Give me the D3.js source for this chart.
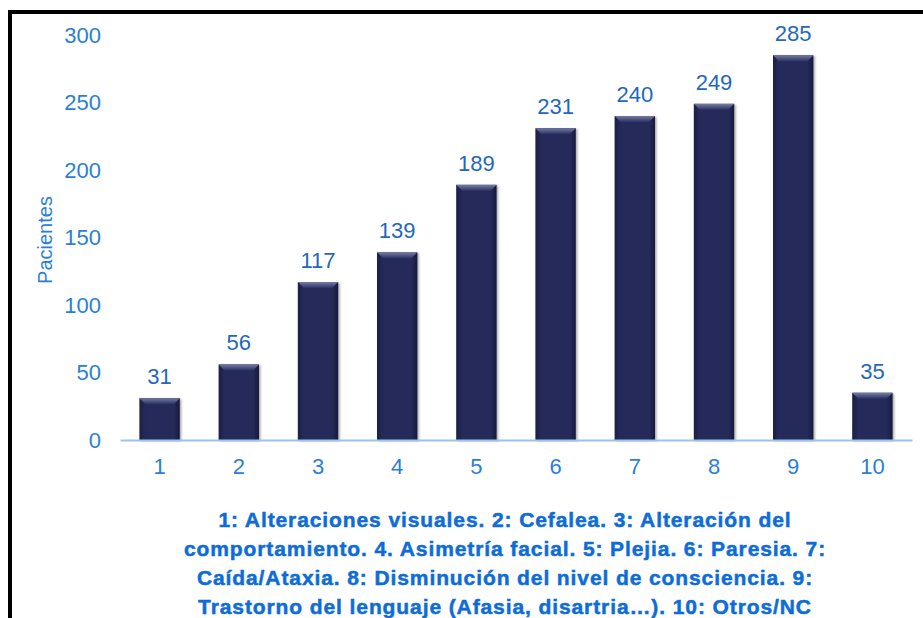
<!DOCTYPE html>
<html><head><meta charset="utf-8">
<script src="https://cdn.jsdelivr.net/npm/d3@7"></script>
<style>body{margin:0;background:#fff;}svg{display:block;font-family:Arial,"Liberation Sans",sans-serif;}</style>
</head><body>
<svg id="c" width="923" height="618"></svg>
<script>
const categories = ["1","2","3","4","5","6","7","8","9","10"];
const values = [31,56,117,139,189,231,240,249,285,35];
const yTicks = [0,50,100,150,200,250,300];
const yTitle = "Pacientes";
const captionLines = [
  "1: Alteraciones visuales. 2: Cefalea. 3: Alteración del",
  "comportamiento. 4. Asimetría facial. 5: Plejia. 6: Paresia. 7:",
  "Caída/Ataxia. 8: Disminución del nivel de consciencia. 9:",
  "Trastorno del lenguaje (Afasia, disartria…). 10: Otros/NC"
];

const svg = d3.select("#c");
const defs = svg.append("defs");
const g1 = defs.append("linearGradient").attr("id","barg").attr("x1",0).attr("x2",1).attr("y1",0).attr("y2",0);
g1.append("stop").attr("offset","0%").attr("stop-color","#1a1f45");
g1.append("stop").attr("offset","15%").attr("stop-color","#252b5a");
g1.append("stop").attr("offset","85%").attr("stop-color","#252b5a");
g1.append("stop").attr("offset","100%").attr("stop-color","#161a3c");
const g2 = defs.append("linearGradient").attr("id","topg").attr("x1",0).attr("x2",0).attr("y1",0).attr("y2",1);
g2.append("stop").attr("offset","0%").attr("stop-color","#767ca3");
g2.append("stop").attr("offset","100%").attr("stop-color","#2b3163");
const flt = defs.append("filter").attr("id","sh").attr("x","-20%").attr("y","-20%").attr("width","140%").attr("height","140%");
flt.append("feDropShadow").attr("dx",1.5).attr("dy",1).attr("stdDeviation",1.2).attr("flood-color","#000").attr("flood-opacity",0.35);

// frame
svg.append("path").attr("d","M10,618 L10,12 L923,12").attr("fill","none").attr("stroke","#000").attr("stroke-width",4);

const x = d3.scaleBand().domain(categories).range([120,912]).paddingInner(0.49).paddingOuter(0.245);
const y = d3.scaleLinear().domain([0,300]).range([440,35]);

const tickCol = "#2a7fd4";
const yAxis = svg.append("g").attr("transform","translate(101,0)")
  .call(d3.axisLeft(y).tickValues(yTicks).tickSize(0).tickPadding(0));
yAxis.select(".domain").remove();
yAxis.selectAll("text").attr("fill",tickCol).attr("font-size",22).attr("font-family","Arial, 'Liberation Sans', sans-serif");

const bars = svg.append("g");
const bw = x.bandwidth();
categories.forEach((c,i)=>{
  const x0 = x(c), yt = y(values[i]), h = y(0)-yt;
  const gb = bars.append("g").attr("filter","url(#sh)");
  gb.append("rect").attr("x",x0).attr("y",yt).attr("width",bw).attr("height",h).attr("fill","url(#barg)");
  const b = 6;
  gb.append("path").attr("d",`M${x0},${yt} L${x0+bw},${yt} L${x0+bw-b},${yt+b} L${x0+b},${yt+b} Z`).attr("fill","url(#topg)");
});

const xAxis = svg.append("g").attr("transform","translate(0,440)")
  .call(d3.axisBottom(x).tickSize(0).tickPadding(18));
xAxis.select(".domain").attr("stroke","#9cc3ea").attr("stroke-width",2);
xAxis.selectAll("text").attr("fill",tickCol).attr("font-size",22).attr("font-family","Arial, 'Liberation Sans', sans-serif");

svg.append("g").selectAll("text").data(values).join("text")
  .attr("x",(d,i)=>x(categories[i])+bw/2).attr("y",d=>y(d)-14)
  .attr("text-anchor","middle").attr("fill","#1f68bd").attr("font-size",22).text(d=>d);

svg.append("text").attr("transform","translate(52,240) rotate(-90)").attr("text-anchor","middle")
  .attr("fill",tickCol).attr("font-size",20).text(yTitle);

svg.append("g").selectAll("text").data(captionLines).join("text")
  .attr("x",505).attr("y",(d,i)=>527+i*29).attr("text-anchor","middle")
  .attr("fill","#0d6cd8").attr("stroke","#0d6cd8").attr("stroke-width",0.5)
  .attr("font-weight","bold").attr("font-size",21).attr("letter-spacing",0.9).text(d=>d);
</script>
</body></html>
